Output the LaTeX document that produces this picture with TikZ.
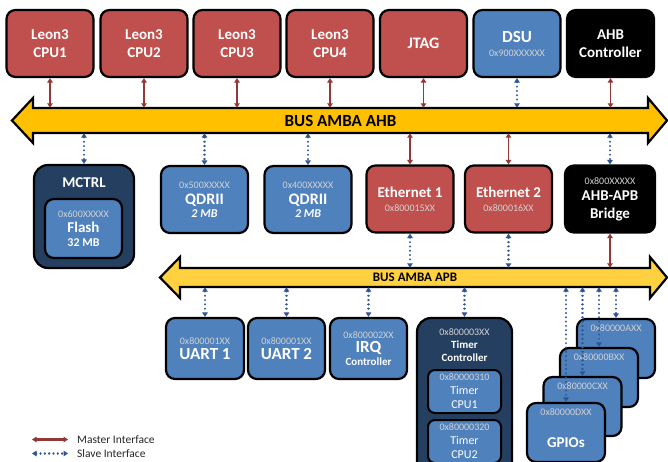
\documentclass[tikz,border=0pt]{standalone}
\usepackage{fontspec}
\setmainfont{Carlito}
\usepackage{xcolor}
\usetikzlibrary{arrows.meta,positioning}

\definecolor{redbox}{HTML}{C0504D}
\definecolor{bluebox}{HTML}{4F81BD}
\definecolor{navybox}{HTML}{243F60}
\definecolor{ahbyellow}{HTML}{FFC000}
\definecolor{apbyellow}{HTML}{FFD040}
\definecolor{masterred}{HTML}{953735}
\definecolor{slaveblue}{HTML}{2F5597}
\definecolor{legendgray}{HTML}{262626}

\newcommand{\addr}[1]{{\mdseries\upshape\fontsize{10}{10}\selectfont\color{white!82!black}#1}}

\tikzset{
  unit/.style={draw=black, line width=2.2pt, rounded corners=9pt, text=white,
    align=center, inner sep=0pt, minimum width=87pt, minimum height=67pt,
    font=\bfseries\fontsize{15}{18}\selectfont},
  redunit/.style={unit, fill=redbox},
  blueunit/.style={unit, fill=bluebox},
  blackunit/.style={unit, fill=black},
  navyunit/.style={unit, fill=navybox, rounded corners=14pt},
  timerunit/.style={unit, fill=bluebox, line width=2pt, rounded corners=7pt,
    minimum width=73pt, minimum height=43pt, font=\fontsize{12}{14}\selectfont},
  gpiounit/.style={unit, fill=bluebox, minimum width=78pt, minimum height=59pt},
  size16/.style={font=\bfseries\fontsize{16}{18}\selectfont},
  size17/.style={font=\bfseries\fontsize{17}{18}\selectfont},
  bus/.style={draw=black, line width=2.2pt, line join=miter},
  busname/.style={inner sep=0pt, text=black},
  plain/.style={inner sep=0pt, text=white, align=center},
  master/.style={masterred, line width=1.9pt,
    {Triangle[length=4.5pt,width=5.5pt]}-{Triangle[length=4.5pt,width=5.5pt]}},
  slave/.style={slaveblue, line width=2.3pt, dash pattern=on 0.01pt off 4.3pt,
    line cap=round,
    {Triangle[length=4.5pt,width=5.5pt]}-{Triangle[length=4.5pt,width=5.5pt]}},
  legend/.style={inner sep=0pt, text=legendgray, font=\fontsize{11.5}{12}\selectfont}
}

\begin{document}
\begin{tikzpicture}[x=1pt,y=-1pt]
\useasboundingbox (0,0) rectangle (668,461);
\clip (0,0) rectangle (668,461);

% masters and DSU on top of the AHB
\node[redunit] (cpu1) at (50,43.5) {Leon3\\CPU1};
\node[redunit] (cpu2) at (144,43.5) {Leon3\\CPU2};
\node[redunit] (cpu3) at (237,43.5) {Leon3\\CPU3};
\node[redunit] (cpu4) at (330,43.5) {Leon3\\CPU4};
\node[redunit, size16] (jtag) at (423.5,43.5) {JTAG};
\node[blueunit, size17] (dsu) at (517,43.5) {DSU\\[-4pt]\addr{0x900XXXXXX}};
\node[blackunit] (ahbctrl) at (610.5,43.5) {AHB\\Controller};

% AHB bus
\draw[bus, fill=ahbyellow] (12,120.5) -- (33,98) -- (33,108) -- (648,108) -- (648,98)
  -- (667,120.5) -- (648,143) -- (648,133) -- (33,133) -- (33,143) -- cycle;
\node[busname, font=\bfseries\fontsize{17}{17}\selectfont, minimum width=615pt,
  minimum height=25pt] (ahb) at (340.5,120.5) {BUS AMBA AHB};

\draw[master] (cpu1.south) -- (cpu1.south |- ahb.north);
\draw[master] (cpu2.south) -- (cpu2.south |- ahb.north);
\draw[master] (cpu3.south) -- (cpu3.south |- ahb.north);
\draw[master] (cpu4.south) -- (cpu4.south |- ahb.north);
\draw[master] (jtag.south) -- (jtag.south |- ahb.north);
\draw[slave] (dsu.south) -- (dsu.south |- ahb.north);
\draw[master] (ahbctrl.south) -- (ahbctrl.south |- ahb.north);

% memories, ethernet and bridge
\node[navyunit, minimum width=100pt, minimum height=103pt] (mctrl) at (84,216.5) {};
\node[plain, font=\bfseries\fontsize{15}{18}\selectfont] (mctrlname) at (84,183) {MCTRL};
\node[blueunit, minimum width=77pt, minimum height=59pt] (flash) at (83.5,228.5)
  {\addr{0x600XXXXX}\\[-3pt]Flash\\[-4pt]{\fontsize{12}{12}\selectfont 32 MB}};
\node[blueunit, size16] (qdr1) at (204.5,199.5)
  {\addr{0x500XXXXX}\\[-2pt]QDRII\\[-5pt]{\itshape\fontsize{12}{12}\selectfont 2 MB}};
\node[blueunit, size16] (qdr2) at (308,199.5)
  {\addr{0x400XXXXX}\\[-2pt]QDRII\\[-5pt]{\itshape\fontsize{12}{12}\selectfont 2 MB}};
\node[redunit] (eth1) at (410,199) {Ethernet 1\\[-4pt]\addr{0x800015XX}};
\node[redunit] (eth2) at (508.5,199) {Ethernet 2\\[-4pt]\addr{0x800016XX}};
\node[blackunit, minimum width=90pt] (bridge) at (610,199)
  {\addr{0x800XXXXX}\\[-2pt]AHB-APB\\Bridge};

\draw[slave] (mctrl.north |- ahb.south) -- (mctrl.north);
\draw[slave] (qdr1.north |- ahb.south) -- (qdr1.north);
\draw[slave] (qdr2.north |- ahb.south) -- (qdr2.north);
\draw[master] (eth1.north |- ahb.south) -- (eth1.north);
\draw[master] (eth2.north |- ahb.south) -- (eth2.north);
\draw[slave] (bridge.north |- ahb.south) -- (bridge.north);

% APB bus
\draw[bus, fill=apbyellow] (160,277.5) -- (180,257) -- (180,268) -- (650,268) -- (650,257)
  -- (667,277.5) -- (650,298) -- (650,287) -- (180,287) -- (180,298) -- cycle;
\node[busname, font=\bfseries\fontsize{13}{13}\selectfont, minimum width=470pt,
  minimum height=19pt] (apb) at (415,277.5) {BUS AMBA APB};

\draw[slave] (eth1.south) -- (eth1.south |- apb.north);
\draw[slave] (eth2.south) -- (eth2.south |- apb.north);
\draw[master] (bridge.south) -- (bridge.south |- apb.north);

% APB slaves
\node[blueunit, size17, minimum width=78pt, minimum height=61pt] (uart1) at (205,348.5)
  {\addr{0x800001XX}\\[-3pt]UART 1};
\node[blueunit, size17, minimum width=77pt, minimum height=61pt] (uart2) at (286.5,348.5)
  {\addr{0x800001XX}\\[-3pt]UART 2};
\node[blueunit, size17, minimum width=77pt, minimum height=61pt] (irq) at (368.5,348.5)
  {\addr{0x800002XX}\\[-4pt]IRQ\\[-5pt]{\fontsize{11}{11}\selectfont Controller}};

\node[navyunit, minimum width=95pt, minimum height=165pt] (timer) at (464.5,400.5) {};
\node[plain, font=\bfseries\fontsize{11}{13}\selectfont] (timername) at (464.5,345)
  {\addr{0x800003XX}\\Timer\\Controller};
\node[timerunit] (tcpu1) at (464.5,391.5) {\addr{0x80000310}\\Timer\\CPU1};
\node[timerunit] (tcpu2) at (464.5,441.5) {\addr{0x80000320}\\Timer\\CPU2};

\node[gpiounit] (gpioa) at (616,348.5) {};
\node[plain, below=7pt of gpioa.north] (gpioaaddr) {\addr{0x80000AXX}};
\node[gpiounit] (gpiob) at (599,377.5) {};
\node[plain, below=7pt of gpiob.north] (gpiobaddr) {\addr{0x80000BXX}};
\node[gpiounit] (gpioc) at (582.5,406.5) {};
\node[plain, below=7pt of gpioc.north] (gpiocaddr) {\addr{0x80000CXX}};
\node[gpiounit] (gpiod) at (566,432.5) {};
\node[plain, below=7pt of gpiod.north] (gpiodaddr) {\addr{0x80000DXX}};
\node[plain, font=\bfseries\fontsize{15}{18}\selectfont] (gpioname) at (566,443) {GPIOs};

\draw[slave] (uart1.north |- apb.south) -- (uart1.north);
\draw[slave] (uart2.north |- apb.south) -- (uart2.north);
\draw[slave] (irq.north |- apb.south) -- (irq.north);
\draw[slave] (timer.north |- apb.south) -- (timer.north);
\draw[slave] (gpioa.north |- apb.south) -- (gpioa.north);
\draw[slave] (gpiob.north |- apb.south) -- (gpiob.north);
\draw[slave] (gpioc.north |- apb.south) -- (gpioc.north);
\draw[slave] (gpiod.north |- apb.south) -- (gpiod.north);

% legend
\coordinate (mstart) at (32,439.5);
\coordinate (mend) at (68,439.5);
\coordinate (sstart) at (32,453.5);
\coordinate (send) at (68,453.5);
\draw[master, line width=2.4pt] (mstart) -- (mend);
\draw[slave] (sstart) -- (send);
\node[legend, right=9pt of mend] (mastertext) {Master Interface};
\node[legend, right=9pt of send] (slavetext) {Slave Interface};
\end{tikzpicture}
\end{document}
